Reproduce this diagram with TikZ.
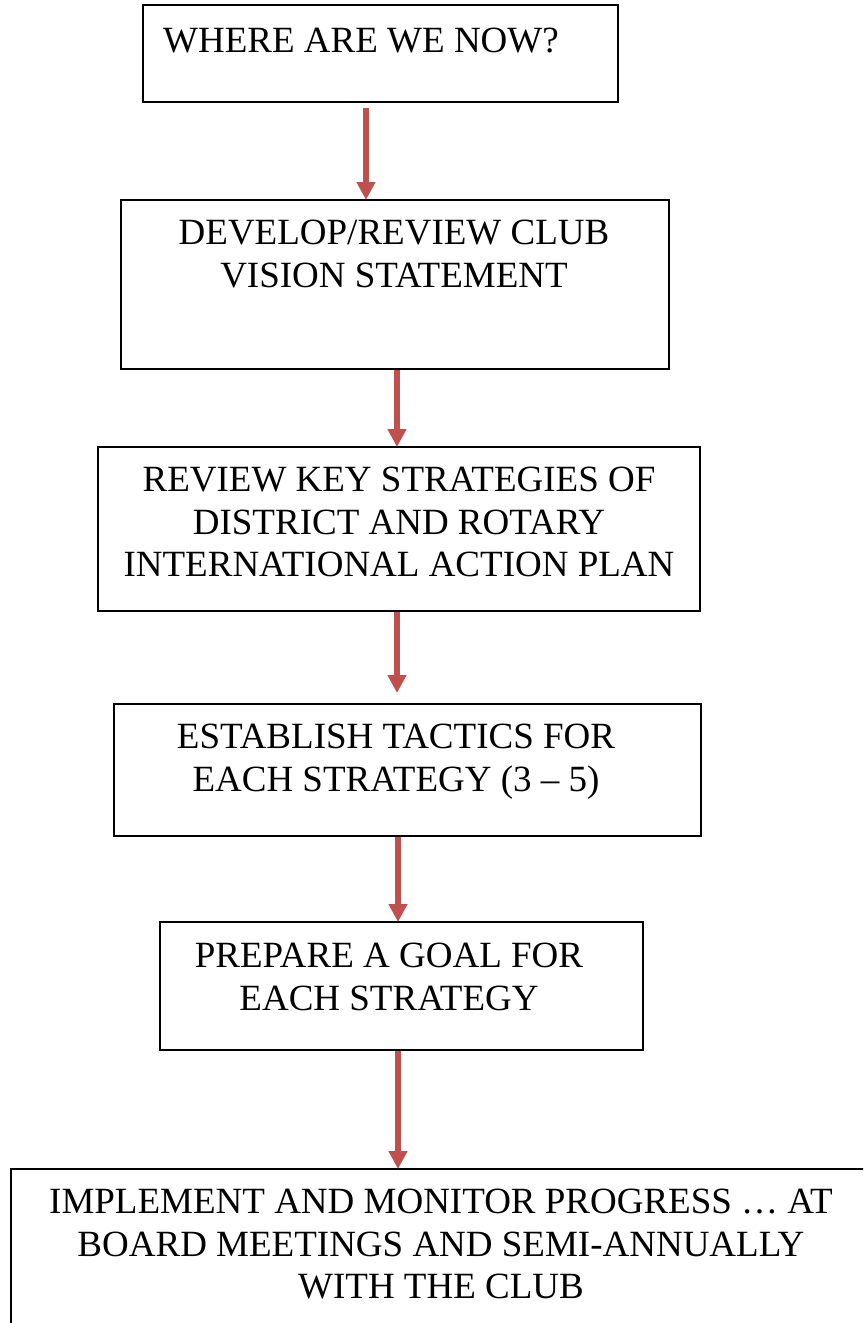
\documentclass[tikz,border=0pt]{standalone}
\usepackage{fontspec}
\setmainfont{Liberation Serif}
\usepackage{xcolor}
\usetikzlibrary{arrows.meta}
\definecolor{arrowred}{RGB}{192,80,77}

\begin{document}
\begin{tikzpicture}[x=1pt,y=-1pt,
    box/.style={draw=black, line width=1.3pt, rectangle, inner sep=0pt, outer sep=0pt},
    boxtext/.style={inner sep=0pt, align=center, font=\fontsize{37}{42.5}\selectfont},
    flow/.style={draw=arrowred, line width=6pt, -{Triangle[width=18pt,length=18pt]}}]
\useasboundingbox (0,0) rectangle (863,1323);
\clip (0,0) rectangle (863,1323);

% Boxes
\node[box, minimum width=475, minimum height=97] (where) at (380.5,53.5) {};
\node[box, minimum width=548, minimum height=169] (vision) at (395,284.5) {};
\node[box, minimum width=602, minimum height=164] (review) at (399,529) {};
\node[box, minimum width=587, minimum height=132] (tactics) at (407.5,770) {};
\node[box, minimum width=483, minimum height=128] (goal) at (401.5,986) {};
\node[box, minimum width=864, minimum height=171] (implement) at (443,1254.5) {};

% Text Nodes
\node[boxtext, anchor=north west] (wheretext) at (163,28) {WHERE ARE WE NOW?};
\node[boxtext, anchor=north] (visiontext) at (394,220) {DEVELOP/REVIEW CLUB\\VISION STATEMENT};
\node[boxtext, anchor=north] (reviewtext) at (399,467) {REVIEW KEY STRATEGIES OF\\DISTRICT AND ROTARY\\INTERNATIONAL ACTION PLAN};
\node[boxtext, anchor=north] (tacticstext) at (396,724) {ESTABLISH TACTICS FOR\\EACH STRATEGY (3 -- 5)};
\node[boxtext, anchor=north] (goaltext) at (389,943) {PREPARE A GOAL FOR\\EACH STRATEGY};
\node[boxtext, anchor=north] (implementtext) at (441,1189) {IMPLEMENT AND MONITOR PROGRESS \dots\ AT\\BOARD MEETINGS AND SEMI-ANNUALLY\\WITH THE CLUB};

% Arrows
\coordinate (a1) at (366,108);
\coordinate (a2) at (397,370);
\coordinate (a3) at (397,612);
\coordinate (a4) at (398,837);
\coordinate (a5) at (398,1051);
\draw[flow] (a1) -- (a1 |- vision.north);
\draw[flow] (a2) -- (a2 |- review.north);
\draw[flow] (a3) -- ([yshift=11pt]a3 |- tactics.north);
\draw[flow] (a4) -- (a4 |- goal.north);
\draw[flow] (a5) -- (a5 |- implement.north);

\end{tikzpicture}
\end{document}
